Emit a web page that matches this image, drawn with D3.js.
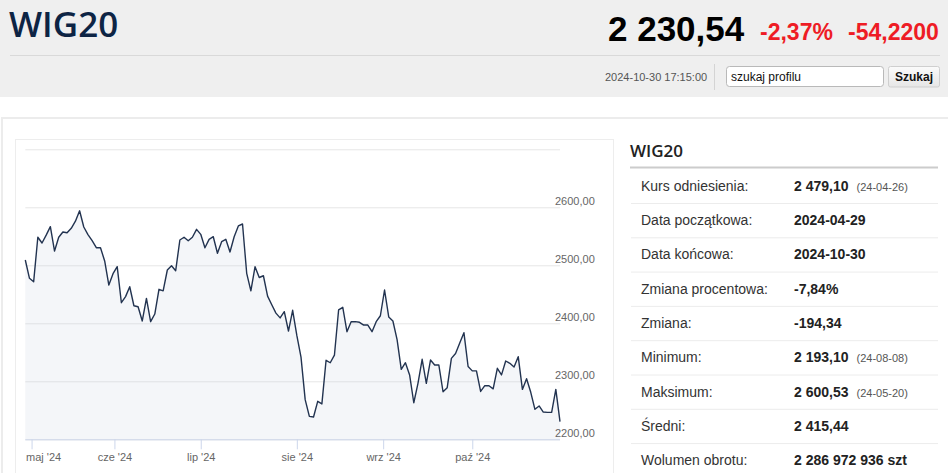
<!DOCTYPE html>
<html>
<head>
<meta charset="utf-8">
<script src="https://cdn.jsdelivr.net/npm/d3@7"></script>
<style>
  html, body { margin: 0; padding: 0; background: #fff; }
  svg { display: block; }
  text { font-family: "Liberation Sans", Arial, sans-serif; }
</style>
</head>
<body>
<svg id="page" width="948" height="473"></svg>
<script>
// ---------------- DATA ----------------
const dates = [
  "2024-04-29","2024-04-30",
  "2024-05-02","2024-05-06","2024-05-07","2024-05-08","2024-05-09","2024-05-10",
  "2024-05-13","2024-05-14","2024-05-15","2024-05-16","2024-05-17",
  "2024-05-20","2024-05-21","2024-05-22","2024-05-23","2024-05-24",
  "2024-05-27","2024-05-28","2024-05-29","2024-05-31",
  "2024-06-03","2024-06-04","2024-06-05","2024-06-06","2024-06-07",
  "2024-06-10","2024-06-11","2024-06-12","2024-06-13","2024-06-14",
  "2024-06-17","2024-06-18","2024-06-19","2024-06-20","2024-06-21",
  "2024-06-24","2024-06-25","2024-06-26","2024-06-27","2024-06-28",
  "2024-07-01","2024-07-02","2024-07-03","2024-07-04","2024-07-05",
  "2024-07-08","2024-07-09","2024-07-10","2024-07-11","2024-07-12",
  "2024-07-15","2024-07-16","2024-07-17","2024-07-18","2024-07-19",
  "2024-07-22","2024-07-23","2024-07-24","2024-07-25","2024-07-26",
  "2024-07-29","2024-07-30","2024-07-31",
  "2024-08-01","2024-08-02",
  "2024-08-05","2024-08-06","2024-08-07","2024-08-08","2024-08-09",
  "2024-08-12","2024-08-13","2024-08-14","2024-08-16",
  "2024-08-19","2024-08-20","2024-08-21","2024-08-22","2024-08-23",
  "2024-08-26","2024-08-27","2024-08-28","2024-08-29","2024-08-30",
  "2024-09-02","2024-09-03","2024-09-04","2024-09-05","2024-09-06",
  "2024-09-09","2024-09-10","2024-09-11","2024-09-12","2024-09-13",
  "2024-09-16","2024-09-17","2024-09-18","2024-09-19","2024-09-20",
  "2024-09-23","2024-09-24","2024-09-25","2024-09-26","2024-09-27",
  "2024-09-30",
  "2024-10-01","2024-10-02","2024-10-03","2024-10-04",
  "2024-10-07","2024-10-08","2024-10-09","2024-10-10","2024-10-11",
  "2024-10-14","2024-10-15","2024-10-16","2024-10-17","2024-10-18",
  "2024-10-21","2024-10-22","2024-10-23","2024-10-24","2024-10-25",
  "2024-10-28","2024-10-29","2024-10-30"
];

const closes = [
  2509.1, 2477.6,
  2471.7, 2548.3, 2538.5, 2552.0, 2566.6, 2524.6,
  2548.3, 2557.4, 2556.2, 2563.8, 2576.0,
  2594.0, 2566.0, 2553.0, 2542.4, 2530.3,
  2530.3, 2507.5, 2466.0, 2485.5,
  2497.6, 2435.5, 2446.0, 2463.0, 2430.3,
  2428.6, 2404.0, 2443.0, 2402.8, 2416.0,
  2458.6, 2456.0, 2491.9, 2499.3, 2490.7,
  2543.6, 2548.3, 2542.4, 2548.3, 2562.0,
  2553.4, 2530.3, 2544.8, 2549.3, 2520.7,
  2540.7, 2544.8, 2523.0, 2549.3, 2567.8,
  2571.2, 2486.2, 2456.0, 2497.6, 2479.0,
  2482.0, 2446.8, 2432.0, 2417.6, 2409.3,
  2420.0, 2386.7, 2422.4,
  2379.0, 2341.7,
  2268.4, 2239.5, 2238.5, 2265.5, 2261.0,
  2336.2, 2332.0, 2345.0, 2423.0,
  2427.6, 2385.5, 2402.8, 2402.8, 2401.7,
  2397.0, 2397.0, 2385.5, 2402.8, 2413.0,
  2457.4, 2411.0, 2404.0, 2372.0, 2320.7,
  2332.0, 2311.0, 2263.0, 2296.5, 2338.0,
  2296.5, 2336.7, 2328.0, 2328.0, 2282.0,
  2289.0, 2339.6, 2348.0, 2366.0, 2383.8,
  2325.5,
  2318.0, 2318.0, 2282.5, 2292.4,
  2292.4, 2287.0, 2322.4, 2311.0, 2335.0,
  2331.0, 2324.5, 2342.4, 2286.0, 2304.5,
  2281.0, 2251.7, 2257.5, 2247.0, 2246.5,
  2246.5, 2286.0, 2230.54
];

const monthStarts = ["2024-05-01","2024-06-01","2024-07-01","2024-08-01","2024-09-01","2024-10-01"];
const monthLabels = ["maj '24","cze '24","lip '24","sie '24","wrz '24","paź '24"];
const yTicks = [2200, 2300, 2400, 2500, 2600, 2700];
const yLabelled = [2200, 2300, 2400, 2500, 2600];

const headerTitle = "WIG20";
const headerPrice = "2 230,54";
const headerPct = "-2,37%";
const headerChange = "-54,2200";
const headerTime = "2024-10-30 17:15:00";

const tableLabels = ["Kurs odniesienia:","Data początkowa:","Data końcowa:","Zmiana procentowa:","Zmiana:","Minimum:","Maksimum:","Średni:","Wolumen obrotu:"];
const tableValues = ["2 479,10","2024-04-29","2024-10-30","-7,84%","-194,34","2 193,10","2 600,53","2 415,44","2 286 972 936 szt"];
const tableNotes  = ["(24-04-26)","","","","","(24-08-08)","(24-05-20)","",""];

// ---------------- DRAW ----------------
const svg = d3.select("#page");

// header
svg.append("rect").attr("x",0).attr("y",0).attr("width",948).attr("height",97).attr("fill","#efefef");
svg.append("text").attr("x",9).attr("y",37).attr("font-size",35).attr("font-weight",600)
  .attr("fill","#0d2444").style("font-family","'Open Sans', sans-serif").text(headerTitle);
svg.append("text").attr("x",608).attr("y",41).attr("font-size",35).attr("font-weight","bold")
  .attr("fill","#000").text(headerPrice);
svg.append("text").attr("x",760).attr("y",40).attr("font-size",23).attr("font-weight","bold")
  .attr("fill","#ee1c25").text(headerPct);
svg.append("text").attr("x",848).attr("y",40).attr("font-size",23).attr("font-weight","bold")
  .attr("fill","#ee1c25").text(headerChange);
svg.append("line").attr("x1",10).attr("x2",940).attr("y1",55.5).attr("y2",55.5).attr("stroke","#d9d9d9");
svg.append("text").attr("x",605).attr("y",81).attr("font-size",11).attr("fill","#555").text(headerTime);
svg.append("line").attr("x1",714.5).attr("x2",714.5).attr("y1",64).attr("y2",90).attr("stroke","#d4d4d4");
svg.append("rect").attr("x",726.5).attr("y",66.5).attr("width",157).attr("height",20).attr("rx",3)
  .attr("fill","#fff").attr("stroke","#b9b9b9");
svg.append("text").attr("x",731).attr("y",81).attr("font-size",12).attr("fill","#111").text("szukaj profilu");
const grad = svg.append("defs").append("linearGradient").attr("id","btn").attr("x1",0).attr("x2",0).attr("y1",0).attr("y2",1);
grad.append("stop").attr("offset","0").attr("stop-color","#fbfbfb");
grad.append("stop").attr("offset","1").attr("stop-color","#e6e6e6");
svg.append("rect").attr("x",888.5).attr("y",66.5).attr("width",51).attr("height",20.5).attr("rx",2)
  .attr("fill","url(#btn)").attr("stroke","#cfcfcf");
svg.append("text").attr("x",914).attr("y",81).attr("font-size",12).attr("font-weight","bold")
  .attr("text-anchor","middle").attr("fill","#111").text("Szukaj");

// panel borders
svg.append("rect").attr("x",2).attr("y",118).attr("width",1000).attr("height",500)
  .attr("fill","none").attr("stroke","#ececec").attr("stroke-width",2);
svg.append("rect").attr("x",15.5).attr("y",139.5).attr("width",598).attr("height",400)
  .attr("fill","#fff").attr("stroke","#ededed");

// chart
const x = d3.scaleLinear().domain([0, dates.length - 1]).range([25.3, 560]);
const y = d3.scaleLinear().domain([2200, 2700]).range([439.3, 149.3]);

const parse = d3.timeParse("%Y-%m-%d");
const dTimes = dates.map(parse);
function ordinalPos(s) {
  const t = parse(s);
  for (let i = 0; i < dTimes.length - 1; i++) {
    if (t >= dTimes[i] && t <= dTimes[i + 1]) {
      return i + (t - dTimes[i]) / (dTimes[i + 1] - dTimes[i]);
    }
  }
  return 0;
}
const tickPos = monthStarts.map(ordinalPos);

const g = svg.append("g");

// gridlines
const gridG = g.append("g").attr("transform","translate(560,0)")
  .call(d3.axisRight(y).tickValues(yTicks).tickSize(-(560 - 25.3)).tickFormat(""));
gridG.select(".domain").remove();
gridG.selectAll(".tick line").attr("stroke","#e6e6e6");

// area + line
const data = closes.map((v, i) => ({ i, v }));
g.append("path").datum(data)
  .attr("fill","#c9d2e0").attr("fill-opacity",0.2)
  .attr("d", d3.area().x(d => x(d.i)).y0(y(2200)).y1(d => y(d.v)));
g.append("path").datum(data)
  .attr("fill","none").attr("stroke","#223350").attr("stroke-width",1.4).attr("stroke-linejoin","round")
  .attr("d", d3.line().x(d => x(d.i)).y(d => y(d.v)));

// y labels (on top)
const yAxis = d3.axisRight(y).tickValues(yLabelled).tickSize(0).tickPadding(-5)
  .tickFormat(d => d3.format(".2f")(d).replace(".", ","));
const yg = g.append("g").attr("transform","translate(560,0)").call(yAxis);
yg.select(".domain").remove();
yg.selectAll(".tick line").remove();
yg.selectAll(".tick text").attr("fill","#666").attr("font-size",11)
  .style("font-family","'Liberation Sans', Arial, sans-serif")
  .attr("text-anchor","start").attr("dy","-3");

// x axis
const xAxis = d3.axisBottom(x).tickValues(tickPos).tickSize(10).tickPadding(4)
  .tickFormat((d, i) => monthLabels[i]);
const xg = g.append("g").attr("transform", `translate(0,${y(2200)})`).call(xAxis);
xg.select(".domain").attr("stroke","#ccd6eb").attr("d", `M${x(0)},0.5H560`);
xg.selectAll(".tick line").attr("stroke","#ccd6eb");
xg.selectAll(".tick text").attr("fill","#666").attr("font-size",11)
  .style("font-family","'Liberation Sans', Arial, sans-serif");
xg.selectAll(".tick text").each(function() {
  const bb = this.getBBox();
  const tr = this.parentNode.getAttribute("transform");
  const tx = +tr.match(/translate\(([-\d.]+)/)[1];
  if (tx + bb.x < 26) d3.select(this).attr("x", 26 - (tx + bb.x));
});

// right panel
svg.append("text").attr("x",630).attr("y",157).attr("font-size",17).attr("font-weight",600)
  .attr("fill","#222").style("font-family","'Open Sans', sans-serif").text("WIG20");
svg.append("line").attr("x1",630).attr("x2",938).attr("y1",167.5).attr("y2",167.5)
  .attr("stroke","#cccccc").attr("stroke-width",2);

const rowStep = 34.3, firstSep = 203.5;
tableLabels.forEach((lab, k) => {
  const cy = firstSep - 17.8 + k * rowStep;
  if (k < tableLabels.length - 1) {
    svg.append("line").attr("x1",631).attr("x2",938)
      .attr("y1", firstSep + k * rowStep).attr("y2", firstSep + k * rowStep)
      .attr("stroke","#ececec");
  }
  svg.append("text").attr("x",641).attr("y",cy + 5).attr("font-size",14).attr("fill","#333").text(lab);
  const t = svg.append("text").attr("x",794).attr("y",cy + 5).attr("font-size",14)
    .attr("font-weight","bold").attr("fill","#222").text(tableValues[k]);
  if (tableNotes[k]) {
    t.append("tspan").attr("dx",8).attr("font-size",11).attr("font-weight","normal")
      .attr("fill","#555").text(tableNotes[k]);
  }
});
</script>
</body>
</html>
